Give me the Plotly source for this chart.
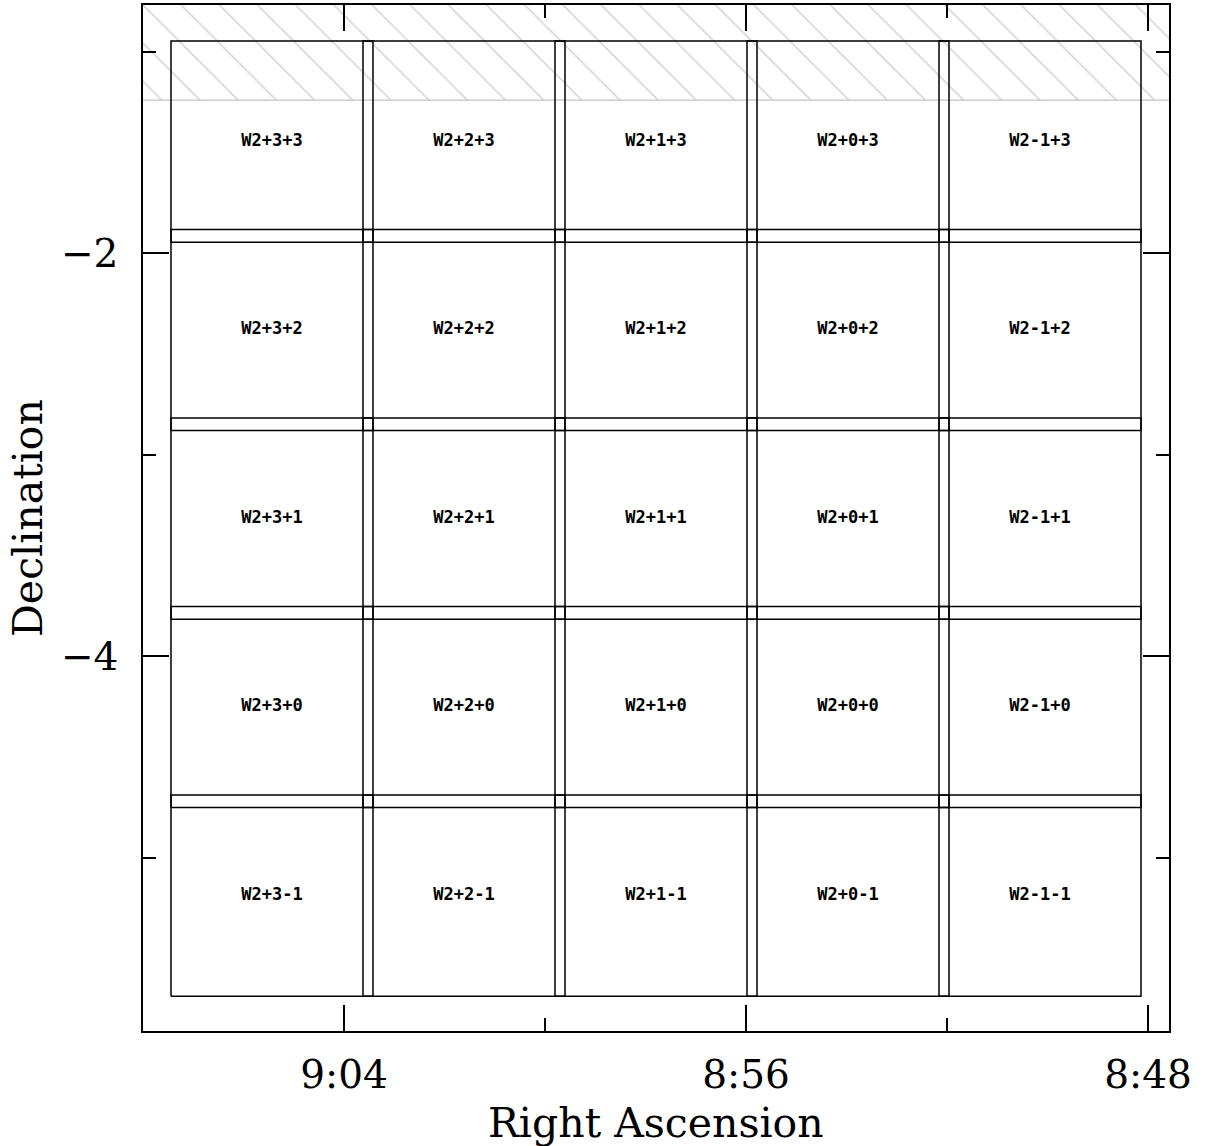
import plotly.graph_objects as go

# ---- data (RA in minutes of time after 8h, Dec in degrees) ----
col_names = ["+3", "+2", "+1", "+0", "-1"]
col_ra = [65.433, 61.612, 57.791, 53.970, 50.149]      # tile centre RA (min)
row_names = ["+3", "+2", "+1", "+0", "-1"]
row_dec = [-1.447, -2.382, -3.318, -4.253, -5.189]      # tile centre Dec (deg)
tile_w_min = 4.02     # tile width in RA minutes
tile_h_deg = 0.998    # tile height in deg
hatch_dec = -1.241    # excluded zone boundary (north of this)

x_tickvals = [64, 56, 48]
x_ticktext = ["9:04", "8:56", "8:48"]
x_minorvals = [68, 60, 52]
y_tickvals = [-2, -4]
y_ticktext = ["\u22122", "\u22124"]
y_minorvals = [-1, -3, -5]

x_range = [68.0, 47.582]
y_range = [-5.861, -0.769]

fig = go.Figure()

# hatched excluded region
hx = [x_range[0] + 1, x_range[1] - 1, x_range[1] - 1, x_range[0] + 1, x_range[0] + 1]
hy = [hatch_dec, hatch_dec, y_range[1] + 1, y_range[1] + 1, hatch_dec]
fig.add_trace(go.Scatter(
    x=hx, y=hy, mode="lines", fill="toself",
    line=dict(color="#c4c4c4", width=1.3),
    fillcolor="rgba(255,255,255,0)",
    fillpattern=dict(shape="\\", size=27, solidity=0.06, fgcolor="#b0b0b0",
                     bgcolor="rgba(255,255,255,0)", fillmode="overlay"),
    hoverinfo="skip", showlegend=False))

# tile outlines
tx, ty, lx, ly, lt = [], [], [], [], []
for rn, dec in zip(row_names, row_dec):
    for cn, ra in zip(col_names, col_ra):
        x0, x1 = ra + tile_w_min / 2, ra - tile_w_min / 2
        y0, y1 = dec - tile_h_deg / 2, dec + tile_h_deg / 2
        tx += [x0, x1, x1, x0, x0, None]
        ty += [y0, y0, y1, y1, y0, None]
        lx.append(ra)
        ly.append(dec)
        lt.append("W2" + cn + rn)

fig.add_trace(go.Scatter(x=tx, y=ty, mode="lines",
                         line=dict(color="black", width=1.5),
                         hoverinfo="skip", showlegend=False))
fig.add_trace(go.Scatter(x=lx, y=ly, mode="text", text=lt,
                         textfont=dict(family="DejaVu Sans Mono", size=17, color="black",
                                       weight="bold"),
                         hoverinfo="skip", showlegend=False))

axis_common = dict(showgrid=False, zeroline=False, showline=True, linecolor="black",
                   linewidth=1.5, mirror="allticks", ticks="inside", ticklen=26,
                   tickwidth=1.5, tickcolor="black", automargin=False,
                   tickfont=dict(family="DejaVu Serif", size=39, color="black"))

fig.update_xaxes(range=x_range, tickmode="array", tickvals=x_tickvals, ticktext=x_ticktext,
                 minor=dict(tickmode="array", tickvals=x_minorvals, ticks="inside", ticklen=13,
                            tickwidth=1.5, tickcolor="black"),
                 ticklabelstandoff=8, **axis_common)
fig.update_yaxes(range=y_range, tickmode="array", tickvals=y_tickvals, ticktext=y_ticktext,
                 minor=dict(tickmode="array", tickvals=y_minorvals, ticks="inside", ticklen=13,
                            tickwidth=1.5, tickcolor="black"),
                 ticklabelstandoff=15, **axis_common)

title_font = dict(family="DejaVu Serif", size=41, color="black")
fig.add_annotation(text="Right Ascension", xref="paper", yref="paper", x=0.5, y=0,
                   xanchor="center", yanchor="middle", yshift=-92, showarrow=False,
                   font=title_font)
fig.add_annotation(text="Declination", xref="paper", yref="paper", x=0, y=0.5,
                   xanchor="center", yanchor="middle", xshift=-115, textangle=-90,
                   showarrow=False, font=title_font)

fig.update_layout(width=1217, height=1146, autosize=False,
                  margin=dict(l=143, r=48, t=5, b=115),
                  paper_bgcolor="white", plot_bgcolor="white")

fig.write_html("out.html", config={"displayModeBar": False},
               post_script="document.body.style.margin='0px';document.body.style.overflow='hidden';")
